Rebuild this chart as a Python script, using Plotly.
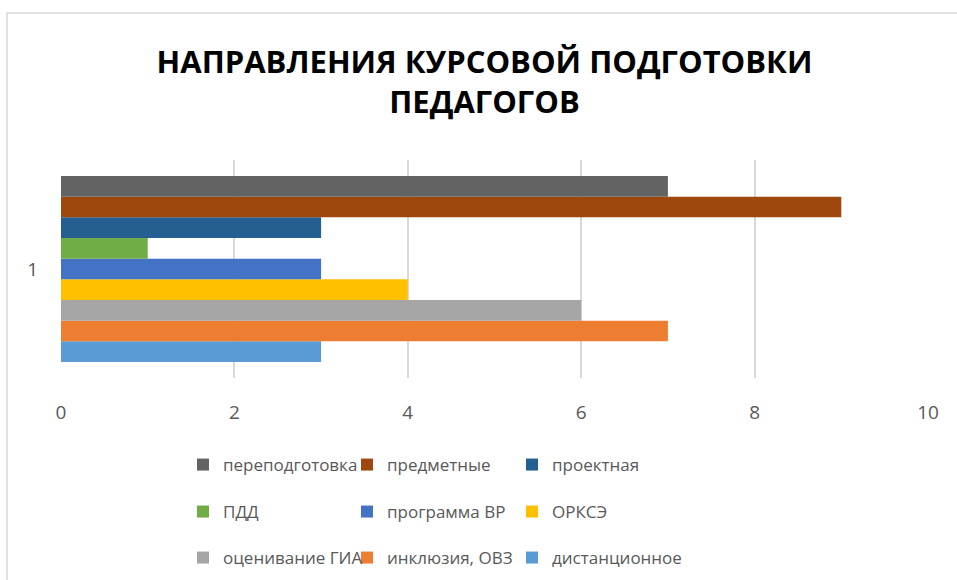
import plotly.graph_objects as go

category = ["1"]
series_names = ["переподготовка", "предметные", "проектная",
                "ПДД", "программа ВР", "ОРКСЭ",
                "оценивание ГИА", "инклюзия, ОВЗ", "дистанционное"]
series_values = [7, 9, 3, 1, 3, 4, 6, 7, 3]
series_colors = ["#636363", "#9E480E", "#255E91",
                 "#70AD47", "#4472C4", "#FFC000",
                 "#A5A5A5", "#ED7D31", "#5B9BD5"]
x_ticks = [0, 2, 4, 6, 8, 10]

FONT = "Open Sans"
W, H = 957, 580
L, R, T, B = 61, 29, 160, 202

pw = W - L - R
ph = H - T - B
def px_x(p):
    return (p - L) / pw
def px_y(p):
    return (H - B - p) / ph

# legend grid: 3 columns x 3 rows (pixel anchors of each entry)
col_px = [183, 347, 512]
row_px = [465, 512, 558]

fig = go.Figure()
legend_ids = ["legend"] + [f"legend{k}" for k in range(2, 10)]
# plotly draws first trace at bottom, so add in reverse order
for i in reversed(range(len(series_names))):
    fig.add_trace(go.Bar(
        y=category, x=[series_values[i]], name=series_names[i],
        orientation="h", marker=dict(color=series_colors[i], line=dict(width=0)),
        legend=legend_ids[i],
    ))

leg_common = dict(orientation="h", xanchor="left", yanchor="middle", yref="container",
                  font=dict(family=FONT, size=17, color="#595959"),
                  bgcolor="rgba(0,0,0,0)", itemwidth=30)
layout_legends = {}
for i, k in enumerate(legend_ids):
    layout_legends[k] = dict(leg_common, x=px_x(col_px[i % 3]), y=1 - row_px[i // 3] / H)

fig.update_layout(
    width=W, height=H,
    margin=dict(l=L, r=R, t=T, b=B),
    paper_bgcolor="white", plot_bgcolor="white",
    barmode="group", bargap=0.147, bargroupgap=0,
    title=dict(text="НАПРАВЛЕНИЯ КУРСОВОЙ ПОДГОТОВКИ<br>ПЕДАГОГОВ",
               x=0.5 + 6 / W, xanchor="center", y=1 - 73 / H, yanchor="middle",
               font=dict(family=FONT, size=31, color="black", weight="bold")),
    xaxis=dict(range=[0, 10], tickvals=x_ticks, showgrid=True,
               gridcolor="#d9d9d9", gridwidth=1.5, zeroline=False,
               showline=False, ticks="", ticklabelstandoff=21,
               tickfont=dict(family=FONT, size=19, color="#595959")),
    yaxis=dict(showgrid=False, zeroline=False, showline=False, ticks="",
               ticklabelstandoff=22,
               tickfont=dict(family=FONT, size=19, color="#595959")),
    showlegend=True,
    **layout_legends,
    shapes=[dict(type="rect", xref="paper", yref="paper",
                 x0=px_x(7), x1=px_x(1000), y0=px_y(700), y1=px_y(13),
                 line=dict(color="#d9d9d9", width=1.5), fillcolor="rgba(0,0,0,0)",
                 layer="below")],
)
fig.write_html("out.html", post_script="document.body.style.margin='0';",
               config={"displayModeBar": False})
